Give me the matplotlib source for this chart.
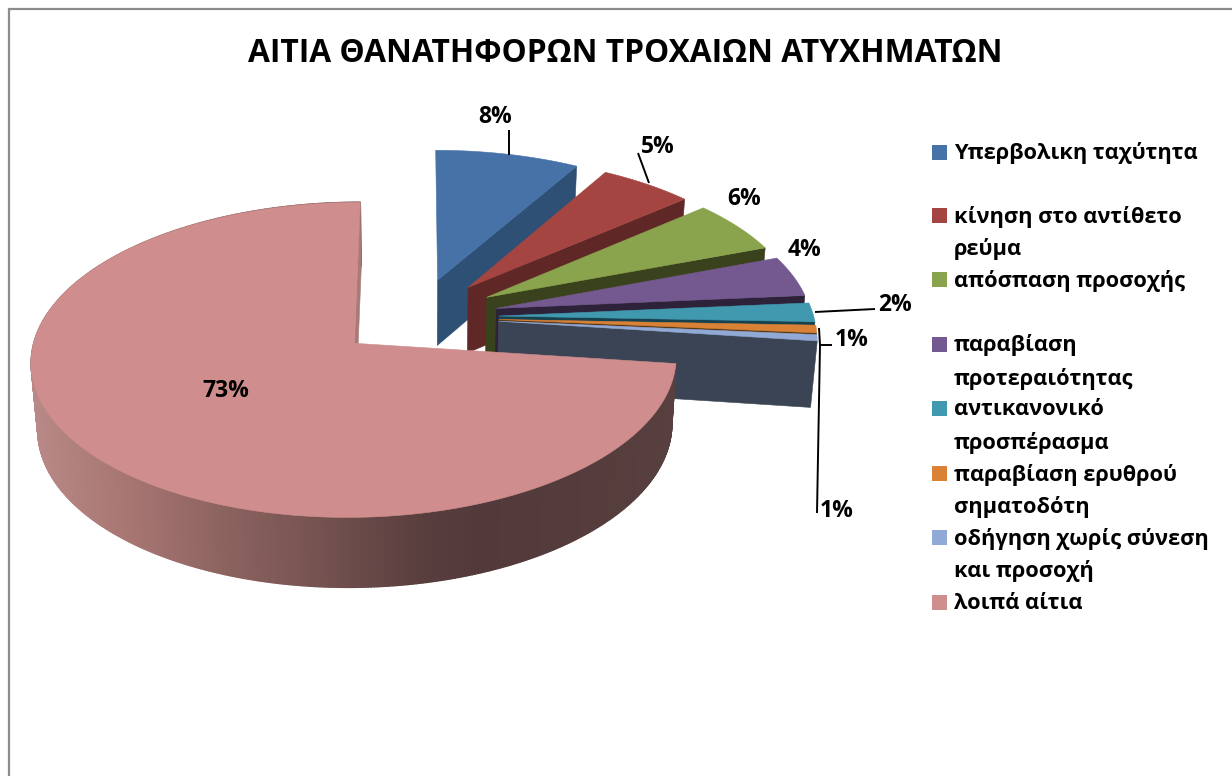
import numpy as np
from matplotlib import pyplot as plt
from matplotlib.patches import Polygon, Rectangle
from matplotlib.collections import PolyCollection
from matplotlib.colors import to_rgb

title = 'ΑΙΤΙΑ ΘΑΝΑΤΗΦΟΡΩΝ ΤΡΟΧΑΙΩΝ ΑΤΥΧΗΜΑΤΩΝ'
categories = ['Υπερβολικη ταχύτητα', 'κίνηση στο αντίθετο\nρεύμα', 'απόσπαση προσοχής',
              'παραβίαση\nπροτεραιότητας', 'αντικανονικό\nπροσπέρασμα',
              'παραβίαση ερυθρού\nσηματοδότη', 'οδήγηση χωρίς σύνεση\nκαι προσοχή', 'λοιπά αίτια']
values = [8.3, 5.4, 5.6, 4.3, 2.0, 0.8, 0.65, 72.95]

top_colors = ['#4672a8', '#a54542', '#8aa44e', '#73598f', '#4099af', '#d98236', '#90a9d5', '#cf8e8d']
side_colors = ['#2e5075', '#5f2826', '#3a421d', '#2d2239', '#17414f', '#5a3a1a', '#3b4454', '#a87a78']

# centre of the exploded pie and projection, in pixels
cx, cy = 417, 317
rx, ry = 315, 150.4
persp = 0.103
explode = 0.26
depth = 66

plt.rcParams['font.family'] = ['Open Sans', 'DejaVu Sans']

fig = plt.figure(figsize=(12.32, 7.76), dpi=100)
ax = fig.add_axes([0, 0, 1, 1])
ax.set_xlim(0, 1232)
ax.set_ylim(776, 0)
ax.axis('off')


def project(u, v):
    f = 1 / (1 + persp * v)
    return cx + rx * u * f, cy - ry * v * f


def lower(x, y):
    # same point on the underside of the pie
    return 421 + (x - 421) * 0.983, y + depth + 0.02 * (y - cy)


def slice_pts(start, end):
    mid = np.radians((start + end) / 2)
    ou, ov = explode * np.sin(mid), explode * np.cos(mid)
    ang = np.radians(np.linspace(start, end, int((end - start) * 2) + 2))
    x, y = project(ou + np.sin(ang), ov + np.cos(ang))
    ax_, ay_ = project(ou, ov)
    return ax_, ay_, x, y


shade_x = [30, 130, 220, 320, 420, 480, 680]
shade_c = np.array([to_rgb(c) for c in ['#b88986', '#a67572', '#8d6360', '#745250', '#593e3e', '#53393a', '#57403f']])

edges = np.cumsum([0] + values) * 360 / sum(values)
for i in range(len(values)):
    x0, y0, x, y = slice_pts(edges[i], edges[i + 1])
    bx, by = lower(x, y)
    bx0, by0 = lower(x0, y0)
    if i == len(values) - 1:
        # rim, shaded from left to right
        quads = [[(x[k], y[k]), (x[k + 1], y[k + 1]), (bx[k + 1], by[k + 1]), (bx[k], by[k])] for k in range(len(x) - 1)]
        mids = (x[:-1] + x[1:]) / 2
        cols = np.column_stack([np.interp(mids, shade_x, shade_c[:, j]) for j in range(3)])
        ax.add_collection(PolyCollection(quads, facecolors=cols, edgecolors=cols, linewidths=1.0))
    # face at the end of the slice
    ax.add_patch(Polygon([(x0, y0), (x[-1], y[-1]), (bx[-1], by[-1]), (bx0, by0)], fc=side_colors[i], ec=side_colors[i], lw=0.4))
    # top
    ax.add_patch(Polygon(np.column_stack([np.r_[x0, x], np.r_[y0, y]]), fc=top_colors[i], ec=top_colors[i], lw=0.4))

# frame
ax.plot([8.5, 8.5, 1232], [776, 9, 9], color='#8c8c8c', lw=1.6, solid_joinstyle='miter')

ax.text(625, 54, title, ha='center', va='center', fontsize=22.9, fontweight='bold', color='black')

# data labels and leader lines
label_pos = [(495, 117), (658, 147), (744, 199), (805, 250), (895, 305), (852, 340), (837, 511), (226, 391)]
for val, (lx, ly) in zip(values, label_pos):
    ax.text(lx, ly, f'{val:.0f}%', ha='center', va='center', fontsize=16.5, fontweight='bold', color='black')

leaders = [[(509, 130), (509, 155)], [(638, 153), (649, 183)], [(815, 312), (875, 309)],
           [(819, 328), (820, 345), (832, 345)], [(820, 345), (817, 513)]]
for pts in leaders:
    ax.plot(*zip(*pts), color='black', lw=1.4, solid_capstyle='butt')

# legend
legend_y = [152, 215, 279, 344, 408, 473, 537, 602]
for name, col, ly in zip(categories, top_colors, legend_y):
    ax.add_patch(Rectangle((932, ly - 7.5), 15, 15, fc=col, ec='none'))
    for k, line in enumerate(name.split('\n')):
        ax.text(954, ly + 1.5 + k * 33, line, ha='left', va='center', fontsize=15.7, fontweight='bold', color='black')

fig.savefig('out.png', dpi=100)
